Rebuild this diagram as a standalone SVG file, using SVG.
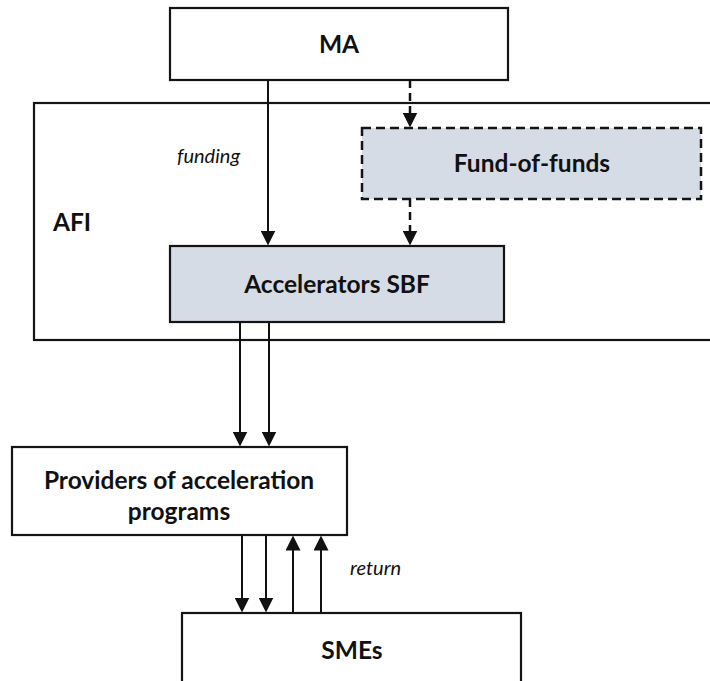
<svg xmlns="http://www.w3.org/2000/svg" width="710" height="681" viewBox="0 0 710 681">
  <style>
    .box { fill: #ffffff; stroke: #141414; stroke-width: 2.2; }
    .shade { fill: #d6dce5; stroke: #141414; stroke-width: 2.2; }
    .dashbox { fill: #d6dce5; stroke: #141414; stroke-width: 2.5; stroke-dasharray: 9 5; }
    .lbl { font-family: Lato, "Liberation Sans", sans-serif; font-weight: bold; font-size: 24.5px; fill: #111111; text-anchor: middle; }
    .note { font-family: Lato, "Liberation Sans", sans-serif; font-style: italic; font-size: 20px; fill: #111111; }
    .link { stroke: #111111; stroke-width: 2; fill: none; marker-end: url(#head); }
    .dash { stroke-dasharray: 8 5; stroke-width: 2.5; }
  </style>
  <defs>
    <marker id="head" viewBox="0 0 15 15" markerWidth="15" markerHeight="15" refX="0.5" refY="7.5" orient="auto" markerUnits="userSpaceOnUse">
      <path d="M0,0 L15,7.5 L0,15 z" fill="#111111"/>
    </marker>
  </defs>

  <!-- managing authority -->
  <g id="ma">
    <rect class="box" x="170" y="8" width="338" height="72"/>
    <text class="lbl" x="339" y="53">MA</text>
  </g>

  <!-- AFI frame, runs off the right edge -->
  <g id="afi">
    <rect class="box" x="34" y="103" width="690" height="237"/>
    <text class="lbl" x="72" y="231">AFI</text>
  </g>

  <g id="fund-of-funds">
    <rect class="dashbox" x="362" y="128" width="339" height="71"/>
    <text class="lbl" x="532" y="172">Fund-of-funds</text>
  </g>

  <g id="accelerators">
    <rect class="shade" x="170" y="246" width="334" height="76"/>
    <text class="lbl" x="337" y="293">Accelerators SBF</text>
  </g>

  <g id="providers">
    <rect class="box" x="12" y="447" width="335" height="88"/>
    <text class="lbl" x="179" y="489">Providers of acceleration</text>
    <text class="lbl" x="179" y="520">programs</text>
  </g>

  <!-- SMEs box continues below the bottom edge -->
  <g id="smes">
    <rect class="box" x="182" y="613" width="339" height="90"/>
    <text class="lbl" x="352" y="659">SMEs</text>
  </g>

  <g id="connectors">
    <line class="link" x1="268" y1="80" x2="268" y2="231"/>
    <line class="link dash" x1="410" y1="80" x2="410" y2="113"/>
    <line class="link dash" x1="410" y1="199" x2="410" y2="231"/>
    <line class="link" x1="240" y1="322" x2="240" y2="432"/>
    <line class="link" x1="269" y1="322" x2="269" y2="432"/>
    <line class="link" x1="242" y1="535" x2="242" y2="598"/>
    <line class="link" x1="266" y1="535" x2="266" y2="598"/>
    <line class="link" x1="293" y1="613" x2="293" y2="550"/>
    <line class="link" x1="321" y1="613" x2="321" y2="550"/>
    <text class="note" x="177" y="163">funding</text>
    <text class="note" x="350" y="575">return</text>
  </g>
</svg>
